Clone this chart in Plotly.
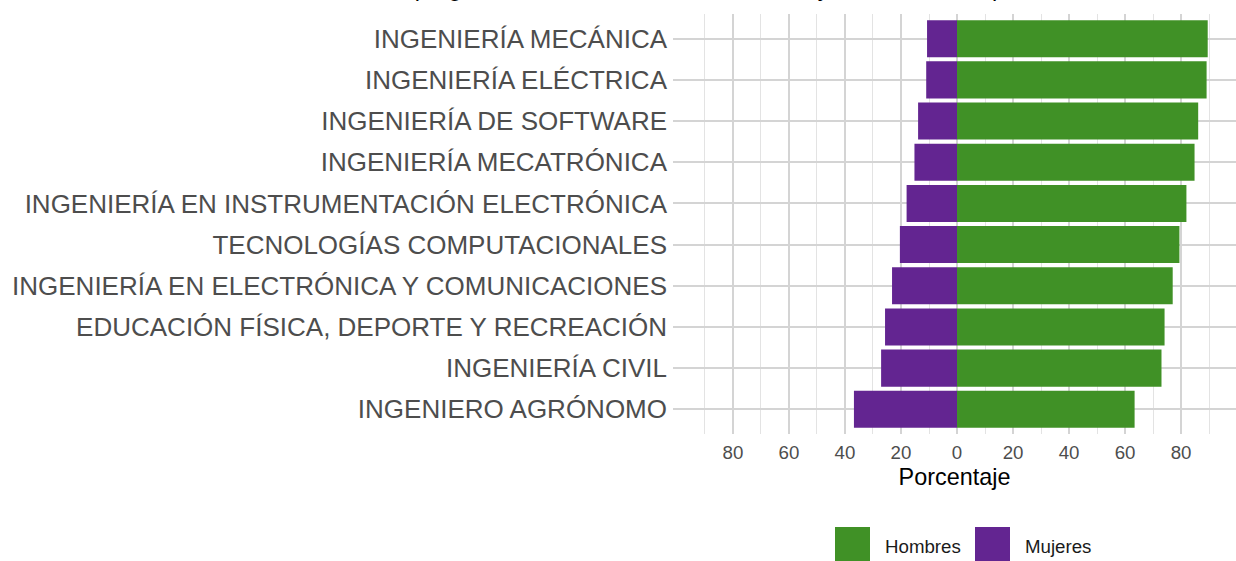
import plotly.graph_objects as go

# ---- data ----
programas = [
    "INGENIERÍA MECÁNICA",
    "INGENIERÍA ELÉCTRICA",
    "INGENIERÍA DE SOFTWARE",
    "INGENIERÍA MECATRÓNICA",
    "INGENIERÍA EN INSTRUMENTACIÓN ELECTRÓNICA",
    "TECNOLOGÍAS COMPUTACIONALES",
    "INGENIERÍA EN ELECTRÓNICA Y COMUNICACIONES",
    "EDUCACIÓN FÍSICA, DEPORTE Y RECREACIÓN",
    "INGENIERÍA CIVIL",
    "INGENIERO AGRÓNOMO",
]
hombres = [89.5, 89.1, 86.1, 84.8, 81.9, 79.4, 77.0, 74.1, 73.0, 63.4]
mujeres = [10.7, 11.0, 13.9, 15.2, 18.0, 20.4, 23.2, 25.7, 27.1, 36.8]
series_names = ["Hombres", "Mujeres"]
tick_vals = [-80, -60, -40, -20, 0, 20, 40, 60, 80]
tick_text = ["80", "60", "40", "20", "0", "20", "40", "60", "80"]
minor_vals = [-90, -70, -50, -30, -10, 10, 30, 50, 70, 90]
titulo = "Los 10 programas con más hombres inscritos y su distribución por sexo"

# ---- styling ----
GREEN = "#409126"
PURPLE = "#632591"
FONT = "Liberation Sans, Arial, sans-serif"
W, H = 1236, 561
ML, MR, MT, MB = 673, 0, 14, 127

fig = go.Figure()
fig.add_trace(go.Bar(
    y=programas, x=hombres, orientation="h", name=series_names[0],
    marker=dict(color=GREEN, line=dict(width=0)), width=0.9,
))
fig.add_trace(go.Bar(
    y=programas, x=[-v for v in mujeres], orientation="h", name=series_names[1],
    marker=dict(color=PURPLE, line=dict(width=0)), width=0.9,
))

fig.update_layout(
    width=W, height=H,
    barmode="relative",
    showlegend=False,
    plot_bgcolor="white", paper_bgcolor="white",
    margin=dict(l=ML, r=MR, t=MT, b=MB, pad=0),
    font=dict(family=FONT, color="#1a1a1a"),
)
fig.update_xaxes(
    range=[-101.4, 99.6],
    tickmode="array", tickvals=tick_vals, ticktext=tick_text,
    showgrid=True, gridcolor="#d4d4d4", gridwidth=1.5,
    minor=dict(tickmode="array", tickvals=minor_vals, showgrid=True,
               gridcolor="#e3e3e3", gridwidth=0.9),
    zeroline=False, showline=False,
    ticks="outside", ticklen=2, tickcolor="rgba(0,0,0,0)",
    tickfont=dict(size=18.7, color="#4d4d4d"),
    title=dict(text="Porcentaje", font=dict(size=23.4, color="#000000"), standoff=6),
)
fig.update_yaxes(
    type="category", categoryorder="array", categoryarray=programas,
    range=[9.6, -0.6],
    showgrid=True, gridcolor="#d4d4d4", gridwidth=1.5,
    zeroline=False, showline=False,
    ticks="", ticklabelstandoff=5,
    tickfont=dict(size=26.0, color="#4d4d4d"),
)

# custom legend (keys drawn as large squares like the reference)
pw = W - ML - MR
ph = H - MT - MB
def px2x(px):
    return (px - ML) / pw
def py2y(py):
    return (H - MB - py) / ph

legend_items = [(series_names[0], GREEN, 835, 883), (series_names[1], PURPLE, 975, 1023)]
for name, col, kx, tx in legend_items:
    fig.add_shape(type="rect", xref="paper", yref="paper",
                  x0=px2x(kx), x1=px2x(kx + 35), y0=py2y(561), y1=py2y(527),
                  fillcolor=col, line=dict(width=0), layer="above")
    fig.add_annotation(xref="paper", yref="paper", x=px2x(tx), y=py2y(546),
                       xanchor="left", yanchor="middle", showarrow=False,
                       text=name, font=dict(size=18.7, color="#1a1a1a"))

# title (clipped at the top edge as in the reference)
fig.add_annotation(xref="paper", yref="paper", x=px2x(336), y=1,
                   xanchor="left", yanchor="bottom", yshift=MT - 3.5,
                   showarrow=False, text=titulo,
                   font=dict(size=23.4, color="#000000"))

fig.write_html(
    "out.html",
    config={"displayModeBar": False},
    post_script="document.body.style.margin='0';document.body.style.overflow='hidden';",
)
